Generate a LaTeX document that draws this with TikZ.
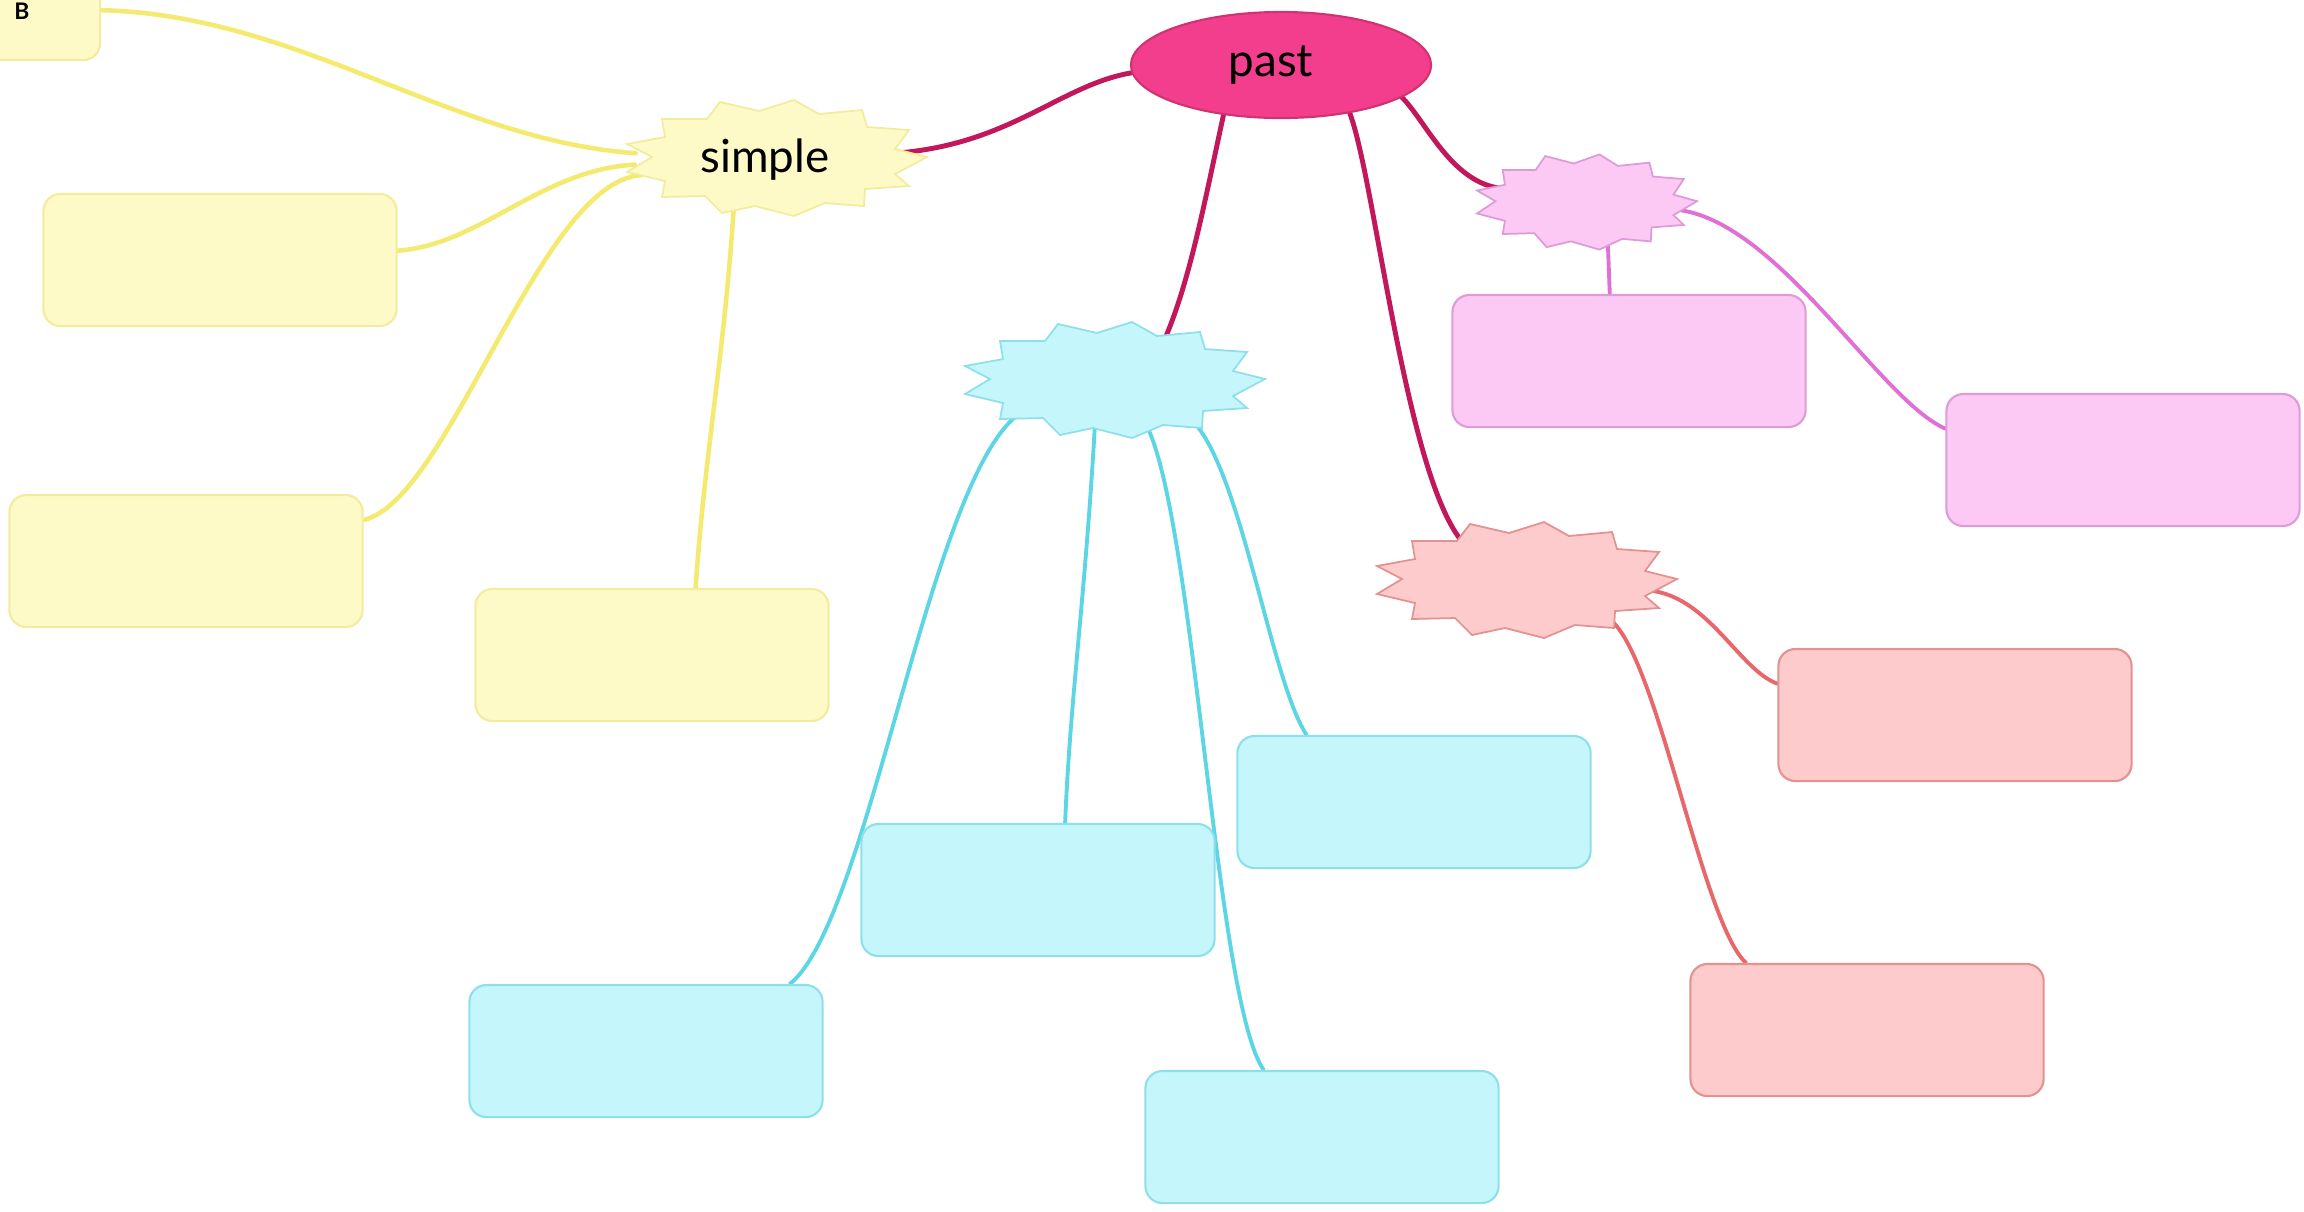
\documentclass[tikz,border=0pt]{standalone}
\usepackage{fontspec}
\setmainfont{Lato}
\usetikzlibrary{shapes.geometric}
\pgfdeclarelayer{bg}
\pgfsetlayers{bg,main}
\definecolor{yfill}{HTML}{FDFAC8}
\definecolor{yline}{HTML}{F3EC9C}
\definecolor{yconn}{HTML}{F4EA70}
\definecolor{cfill}{HTML}{C4F6FB}
\definecolor{cline}{HTML}{8DE0EA}
\definecolor{cconn}{HTML}{5CD6E4}
\definecolor{pfill}{HTML}{FBC9F4}
\definecolor{pline}{HTML}{DF9AD8}
\definecolor{pconn}{HTML}{E06FD6}
\definecolor{rfill}{HTML}{FDCBCB}
\definecolor{rline}{HTML}{E39191}
\definecolor{rconn}{HTML}{E8676A}
\definecolor{pastfill}{HTML}{F23E8D}
\definecolor{pastline}{HTML}{D1336F}
\definecolor{pastconn}{HTML}{C2185B}
\tikzset{
  rbox/.style={rectangle, rounded corners=0.17cm, minimum width=3.53cm, minimum height=1.32cm, inner sep=0pt, line width=0.6pt},
  ybox/.style={rbox, fill=yfill, draw=yline},
  cbox/.style={rbox, fill=cfill, draw=cline},
  pbox/.style={rbox, fill=pfill, draw=pline},
  redbox/.style={rbox, fill=rfill, draw=rline},
  hub/.style={ellipse, inner sep=0pt, minimum width=2.6cm, minimum height=0.9cm},
  maintext/.style={font=\fontsize{13}{15}\selectfont, text=black},
  conn/.style={line width=1.1pt, line cap=round},
  starshape/.pic={
    \path[pic actions, line width=0.5pt, line join=miter]
      (-150,-14) -- (-125,-1) -- (-150,14) -- (-112,23) -- (-115,39) -- (-72,38)
      -- (-55,55) -- (-22,48) -- (17,58) -- (48,45) -- (87,48) -- (88,31)
      -- (132,28) -- (118,16) -- (150,-1) -- (118,-9) -- (132,-28) -- (90,-31)
      -- (85,-48) -- (42,-44) -- (17,-58) -- (-18,-47) -- (-57,-56) -- (-70,-39)
      -- (-115,-39) -- (-112,-21) -- cycle;
  },
}
\begin{document}
\begin{tikzpicture}[x=0.01cm, y=-0.01cm]
\useasboundingbox (0,0) rectangle (2304,1211);
\clip (0,0) rectangle (2304,1211);
% central node
\node[ellipse, fill=pastfill, draw=pastline, line width=0.6pt, minimum width=3cm, minimum height=1.06cm, inner sep=0pt, maintext] (past) at (1281,65) {\kern-0.2cm past};
% starburst outlines
\pic[fill=yfill, draw=yline] at (777,158) {starshape};
\pic[fill=cfill, draw=cline] at (1115,380) {starshape};
\pic[fill=pfill, draw=pline, xscale=0.733, yscale=0.82] at (1587,202) {starshape};
\pic[fill=rfill, draw=rline] at (1527,580) {starshape};
% starburst nodes
\node[hub, maintext] (simple) at (765,160) {simple};
\node[hub] (cburst) at (1115,380) {};
\node[hub, minimum width=1.9cm, minimum height=0.75cm] (pburst) at (1587,202) {};
\node[hub] (rburst) at (1527,580) {};
% yellow boxes
\node[ybox, minimum width=2.3cm, minimum height=1.2cm] (B) at (-15,0) {};
\node[font=\bfseries\fontsize{6.5}{7}\selectfont, inner sep=0pt] (Blabel) at (22,11) {B};
\node[ybox] (Y2) at (220,260) {};
\node[ybox] (Y3) at (186,561) {};
\node[ybox] (Y4) at (652,655) {};
% cyan boxes
\node[cbox] (C1) at (646,1051) {};
\node[cbox] (C2) at (1038,890) {};
\node[cbox] (C3) at (1414,802) {};
\node[cbox] (C4) at (1322,1137) {};
% pink boxes
\node[pbox] (P1) at (1629,361) {};
\node[pbox] (P2) at (2123,460) {};
% red boxes
\node[redbox] (R1) at (1955,715) {};
\node[redbox] (R2) at (1867,1030) {};
\begin{pgfonlayer}{bg}
% from past
\draw[conn, pastconn, line width=1.4pt] (past.183) .. controls (1060,85) and (1010,145) .. (simple.3);
\draw[conn, pastconn, line width=1.4pt] (past.221) .. controls (1205,200) and (1190,280) .. (cburst.40);
\draw[conn, pastconn, line width=1.4pt] (past.325) .. controls (1375,180) and (1405,470) .. (rburst.149);
\draw[conn, pastconn, line width=1.4pt] (past.345) .. controls (1425,120) and (1450,180) .. (pburst.171);
% yellow
\draw[conn, yconn, line width=1.3pt] (simple.177) .. controls (450,140) and (300,15) .. (B.-5.5);
\draw[conn, yconn, line width=1.3pt] (simple.182) .. controls (540,170) and (480,245) .. (Y2.3);
\draw[conn, yconn, line width=1.3pt] (simple.187) .. controls (540,180) and (450,500) .. (Y3.13);
\draw[conn, yconn, line width=1.3pt] (simple.235) .. controls (725,350) and (705,450) .. (Y4.57);
% cyan
\draw[conn, cconn] (cburst.199) .. controls (930,470) and (870,920) .. (C1.25);
\draw[conn, cconn] (cburst.246) .. controls (1085,600) and (1070,700) .. (C2.68.5);
\draw[conn, cconn] (cburst.305) .. controls (1195,520) and (1215,1000) .. (C4.131);
\draw[conn, cconn] (cburst.333) .. controls (1240,460) and (1270,680) .. (C3.148);
% pink
\draw[conn, pconn] (pburst.299) -- (P1.106);
\draw[conn, pconn] (pburst.355) .. controls (1780,225) and (1880,400) .. (P2.170);
% red
\draw[conn, rconn] (rburst.355) .. controls (1710,600) and (1740,670) .. (R1.170);
\draw[conn, rconn] (rburst.335) .. controls (1655,640) and (1700,920) .. (R2.151);
\end{pgfonlayer}
\end{tikzpicture}
\end{document}
